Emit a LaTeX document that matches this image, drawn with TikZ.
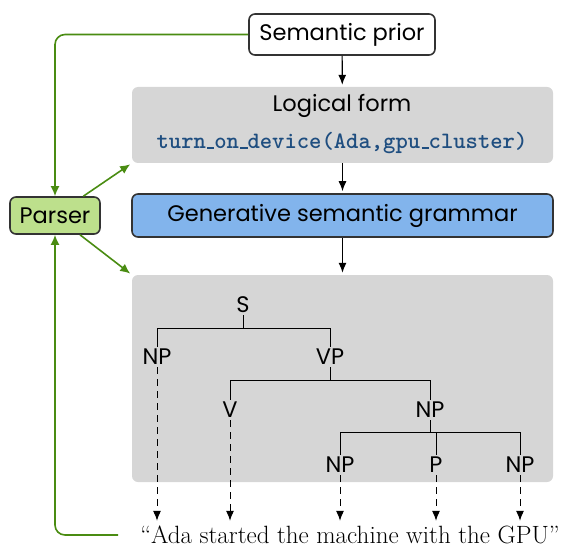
\documentclass[tikz,border=0pt]{standalone}
\usepackage{fontspec}
\setmainfont{Poppins}
\newfontfamily\lmroman{Latin Modern Roman}
\usetikzlibrary{arrows.meta}
\definecolor{gline}{HTML}{4A8C12}
\definecolor{gfill}{HTML}{D6D6D6}
\definecolor{bfill}{HTML}{82B4EC}
\definecolor{pfill}{HTML}{BDE08C}
\definecolor{codeblue}{HTML}{1F4E80}
\definecolor{edge}{HTML}{333333}
\newcommand\usc{\kern.06em\vbox{\hrule width.3em height 1.8pt}}
\begin{document}
\begin{tikzpicture}[x=1pt,y=-1pt,
  font=\fontsize{22.5}{26}\selectfont,
  framed/.style={draw=edge, line width=1.6pt, rounded corners=6pt, inner sep=0pt},
  panel/.style={fill=gfill, rounded corners=6pt, inner sep=0pt},
  lbl/.style={inner sep=2pt},
  blk/.style={line width=1.2pt, -{Latex[length=10pt,width=8pt]}, shorten >=2pt},
  grn/.style={draw=gline, line width=1.6pt, -{Latex[length=10pt,width=9pt]}},
  tree/.style={line width=0.9pt},
  leaf/.style={line width=0.9pt, dash pattern=on 7pt off 5pt, -{Latex[length=10pt,width=8pt]}, shorten >=4pt}]
\useasboundingbox (0,0) rectangle (572,548);

% main column
\node[framed, fill=white, minimum width=186pt, minimum height=41pt] (prior) at (342,34.5) {Semantic prior};
\node[panel, minimum width=421pt, minimum height=76pt] (lf) at (342.5,125) {};
\node[lbl] (lftitle) at (342,106) {Logical form};
\node[lbl] (code) at (342,143) {\ttfamily\bfseries\fontsize{23.5}{26}\selectfont\color{codeblue}turn\usc on\usc device(Ada,gpu\usc cluster)};
\node[framed, fill=bfill, minimum width=421pt, minimum height=43pt] (gsg) at (342.5,215.5) {Generative semantic grammar};
\node[panel, minimum width=421pt, minimum height=207pt] (tree) at (342.5,378.5) {};

\draw[blk] (prior) -- (lf);
\draw[blk] (lf) -- (gsg);
\draw[blk] (gsg) -- (tree);

% parser
\node[framed, fill=pfill, minimum width=90pt, minimum height=37pt] (parser) at (55,215.5) {Parser};
\draw[grn, rounded corners=10pt] (prior.west) -| (parser.north);
\draw[grn, shorten >=2pt] (parser) -- (lf.south west);
\draw[grn, shorten >=2pt] (parser) -- (tree.north west);

% tree
\node[lbl] (s) at (243,305) {S};
\node[lbl] (np1) at (157,357) {NP};
\node[lbl] (vp) at (330,357) {VP};
\node[lbl] (v) at (230,410) {V};
\node[lbl] (np2) at (430,410) {NP};
\node[lbl] (np3) at (340,465) {NP};
\node[lbl] (p) at (436,465) {P};
\node[lbl] (np4) at (520,465) {NP};
\coordinate (bar1) at (0,328);
\coordinate (bar2) at (0,380);
\coordinate (bar3) at (0,432);
\draw[tree] (s.south) -- (s.south |- bar1);
\draw[tree] (np1.north) -- (np1.north |- bar1) -- (vp.north |- bar1) -- (vp.north);
\draw[tree] (vp.south) -- (vp.south |- bar2);
\draw[tree] (v.north) -- (v.north |- bar2) -- (np2.north |- bar2) -- (np2.north);
\draw[tree] (np2.south) -- (np2.south |- bar3);
\draw[tree] (np3.north) -- (np3.north |- bar3) -- (np4.north |- bar3) -- (np4.north);
\draw[tree] (p.north) -- (p.north |- bar3);

% sentence
\node[inner sep=1pt] (quote) at (350,535) {\lmroman\fontsize{25}{28}\selectfont “Ada started the machine with the GPU”};
\draw[leaf] (np1.south) -- (np1.south |- quote.north);
\draw[leaf] (v.south) -- (v.south |- quote.north);
\draw[leaf] (np3.south) -- (np3.south |- quote.north);
\draw[leaf] (p.south) -- (p.south |- quote.north);
\draw[leaf] (np4.south) -- (np4.south |- quote.north);
\draw[grn, rounded corners=10pt, shorten <=21pt] (quote.west) -| (parser.south);
\end{tikzpicture}
\end{document}
